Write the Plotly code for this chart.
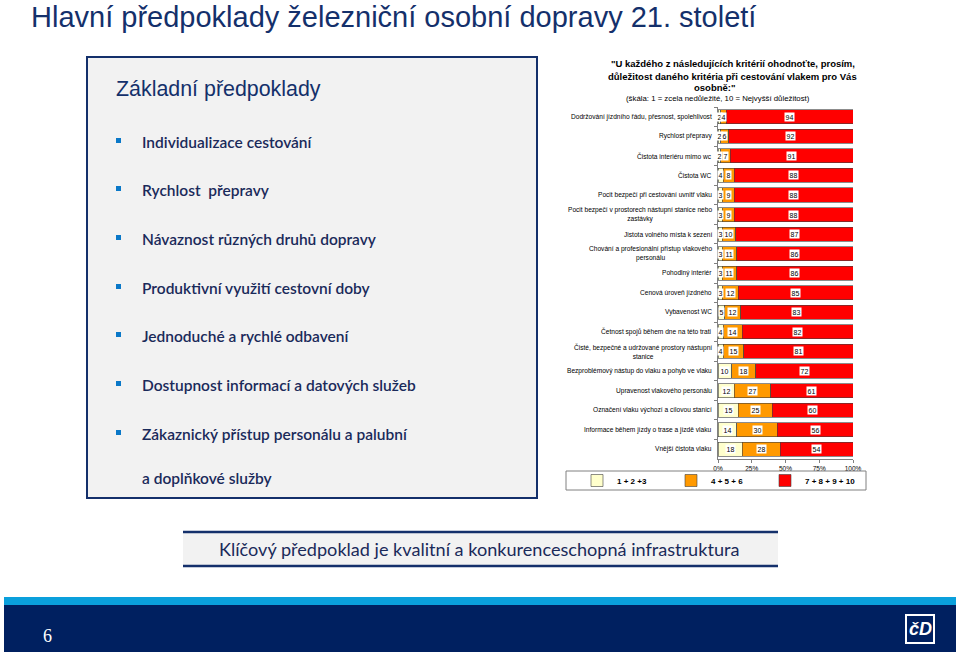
import plotly.graph_objects as go

W, H = 959, 655

def px(x):
    return x / W

def py(y):
    return 1 - y / H

# ---------------- data ----------------
categories = [
    "Dodržování jízdního řádu, přesnost, spolehlivost",
    "Rychlost přepravy",
    "Čistota interiéru mimo wc",
    "Čistota WC",
    "Pocit bezpečí při cestování uvnitř vlaku",
    "Pocit bezpečí v prostorech nástupní stanice nebo<br>zastávky",
    "Jistota volného místa k sezení",
    "Chování a profesionální přístup vlakového<br>personálu",
    "Pohodlný interiér",
    "Cenová úroveň jízdného",
    "Vybavenost WC",
    "Četnost spojů během dne na této trati",
    "Čisté, bezpečné a udržované prostory nástupní<br>stanice",
    "Bezproblémový nástup do vlaku a pohyb ve vlaku",
    "Upravenost vlakového personálu",
    "Označení vlaku výchozí a cílovou stanicí",
    "Informace během jízdy o trase a jízdě vlaku",
    "Vnější čistota vlaku",
]
low_1_3 = [2, 2, 2, 4, 3, 3, 3, 3, 3, 3, 5, 4, 4, 10, 12, 15, 14, 18]
mid_4_6 = [4, 6, 7, 8, 9, 9, 10, 11, 11, 12, 12, 14, 15, 18, 27, 25, 30, 28]
high_7_10 = [94, 92, 91, 88, 88, 88, 87, 86, 86, 85, 83, 82, 81, 72, 61, 60, 56, 54]
series_names = ["1 + 2 +3", "4 + 5 + 6", "7 + 8 + 9 + 10"]
series_colors = ["#FFFFCC", "#FF9900", "#FF0000"]
x_tick_vals = [0, 25, 50, 75, 100]
x_tick_text = ["0%", "25%", "50%", "75%", "100%"]

slide_title = "Hlavní předpoklady železniční osobní dopravy 21. století"
box_title = "Základní předpoklady"
bullets = [
    "Individualizace cestování",
    "Rychlost  přepravy",
    "Návaznost různých druhů dopravy",
    "Produktivní využití cestovní doby",
    "Jednoduché a rychlé odbavení",
    "Dostupnost informací a datových služeb",
    "Zákaznický přístup personálu a palubní",
]
bullet_continuation = "a doplňkové služby"
question_lines = [
    '<b>"U každého z následujících kritérií ohodnoťte, prosím,</b>',
    '<b>důležitost daného kritéria při cestování vlakem pro Vás</b>',
    '<b>osobně:"</b>',
    '(škála: 1 = zcela nedůležité, 10 = Nejvyšší důležitost)',
]
banner = "Klíčový předpoklad je kvalitní a konkurenceschopná infrastruktura"
page_no = "6"

NAVY = "#14306b"
TXT = "#1a2a5a"

fig = go.Figure()
series = [low_1_3, mid_4_6, high_7_10]
for name, vals, col in zip(series_names, series, series_colors):
    fig.add_trace(go.Bar(
        y=categories, x=vals, name=name, orientation="h",
        marker=dict(color=col, line=dict(color="#404040", width=0.6)),
        width=0.72, hoverinfo="skip",
    ))

annotations = []
# data labels (centred in each segment, computed from data)
for i, cat in enumerate(categories):
    cum = 0
    for vals in series:
        v = vals[i]
        annotations.append(dict(
            x=cum + v / 2, y=cat, xref="x", yref="y", text=str(v),
            showarrow=False, font=dict(size=7, color="black", family="Liberation Sans"),
            bgcolor="white", borderpad=0.5,
        ))
        cum += v
    # category labels
    annotations.append(dict(
        x=px(714), y=cat, xref="paper", yref="y", text=cat, xanchor="right",
        align="center", showarrow=False,
        font=dict(size=6.6, color="black", family="Liberation Sans"),
    ))

# slide title
annotations.append(dict(x=px(29), y=py(17), xref="paper", yref="paper", text=slide_title,
                        xanchor="left", yanchor="middle", showarrow=False,
                        font=dict(size=29, color=NAVY, family="Liberation Sans")))
# left box title
annotations.append(dict(x=px(114), y=py(89), xref="paper", yref="paper", text=box_title,
                        xanchor="left", yanchor="middle", showarrow=False,
                        font=dict(size=21.4, color=NAVY, family="Liberation Sans")))
bullet_y = [142, 190, 239, 288, 336, 385, 434]
shapes = []
for t, yy in zip(bullets, bullet_y):
    annotations.append(dict(x=px(140), y=py(yy), xref="paper", yref="paper", text=t,
                            xanchor="left", yanchor="middle", showarrow=False,
                            font=dict(size=15.5, color=TXT, family="Lato", weight=600)))
    shapes.append(dict(type="rect", xref="paper", yref="paper",
                       x0=px(116), x1=px(121), y0=py(yy - 4), y1=py(yy + 1),
                       fillcolor="#0a78c8", line=dict(width=0)))
annotations.append(dict(x=px(140), y=py(478), xref="paper", yref="paper", text=bullet_continuation,
                        xanchor="left", yanchor="middle", showarrow=False,
                        font=dict(size=15.5, color=TXT, family="Lato", weight=600)))

# question text (one annotation per line)
q_x = [733, 732, 714, 718]
q_y = [64, 76, 88, 98]
q_size = [9.5, 9.5, 9.5, 7.8]
for t, xx, yy, sz in zip(question_lines, q_x, q_y, q_size):
    annotations.append(dict(x=px(xx), y=py(yy), xref="paper", yref="paper", text=t,
                            xanchor="center", yanchor="middle", showarrow=False,
                            font=dict(size=sz, color="black", family="Liberation Sans")))
# banner
annotations.append(dict(x=px(479), y=py(549), xref="paper", yref="paper", text=banner,
                        xanchor="center", yanchor="middle", showarrow=False,
                        font=dict(size=18.1, color=TXT, family="Lato")))
# page number
annotations.append(dict(x=px(47), y=py(636), xref="paper", yref="paper", text=page_no,
                        xanchor="center", yanchor="middle", showarrow=False,
                        font=dict(size=18, color="white", family="Liberation Serif")))
# logo approximation
annotations.append(dict(x=px(920), y=py(629), xref="paper", yref="paper", text="<b><i>čD</i></b>",
                        xanchor="center", yanchor="middle", showarrow=False,
                        font=dict(size=18, color="white", family="Liberation Sans")))

# background shapes
bg = [
    dict(type="rect", xref="paper", yref="paper", x0=px(87), x1=px(537), y0=py(498), y1=py(57),
         fillcolor="#F2F2F2", line=dict(color=NAVY, width=2), layer="below"),
    dict(type="rect", xref="paper", yref="paper", x0=px(183), x1=px(778), y0=py(566), y1=py(532),
         fillcolor="#F2F2F2", line=dict(width=0), layer="below"),
    dict(type="line", xref="paper", yref="paper", x0=px(183), x1=px(778), y0=py(532), y1=py(532),
         line=dict(color=NAVY, width=2.5)),
    dict(type="line", xref="paper", yref="paper", x0=px(183), x1=px(778), y0=py(566), y1=py(566),
         line=dict(color=NAVY, width=2.5)),
    dict(type="rect", xref="paper", yref="paper", x0=px(4), x1=px(956), y0=py(605), y1=py(597),
         fillcolor="#0aa0dc", line=dict(width=0), layer="below"),
    dict(type="rect", xref="paper", yref="paper", x0=px(4), x1=px(956), y0=py(652), y1=py(605),
         fillcolor="#002060", line=dict(width=0), layer="below"),
    dict(type="rect", xref="paper", yref="paper", x0=px(906), x1=px(934), y0=py(643), y1=py(615),
         fillcolor="rgba(0,0,0,0)", line=dict(color="white", width=2)),
    # legend frame
    dict(type="rect", xref="paper", yref="paper", x0=px(566), x1=px(866), y0=py(490), y1=py(471),
         fillcolor="rgba(0,0,0,0)", line=dict(color="#808080", width=1)),
]
shapes = bg + shapes

fig.update_layout(
    width=W, height=H, margin=dict(l=0, r=0, t=0, b=0, autoexpand=False),
    paper_bgcolor="white", plot_bgcolor="white",
    barmode="stack", bargap=0.28,
    showlegend=True,
    legend=dict(orientation="h", x=px(577), y=py(466), xanchor="left", yanchor="top",
                entrywidth=49, entrywidthmode="pixels", itemwidth=30,
                font=dict(size=8, family="Liberation Sans", color="black", weight="bold"),
                bgcolor="rgba(0,0,0,0)", traceorder="normal"),
    xaxis=dict(domain=[px(718), px(853)], range=[0, 100], tickvals=x_tick_vals, ticktext=x_tick_text,
               showgrid=False, zeroline=False, showline=True, linecolor="#808080", linewidth=1,
               ticks="outside", ticklen=3, tickcolor="#808080",
               tickfont=dict(size=6.5, family="Liberation Sans", color="black"), anchor="y"),
    yaxis=dict(domain=[py(459), py(107)], type="category", autorange="reversed",
               showticklabels=False, showgrid=False, zeroline=False, showline=True,
               linecolor="#808080", linewidth=1, ticks="outside", ticklen=3, tickcolor="#808080",
               tickson="boundaries", anchor="x"),
    annotations=annotations, shapes=shapes,
)

fig.write_html("out.html")
